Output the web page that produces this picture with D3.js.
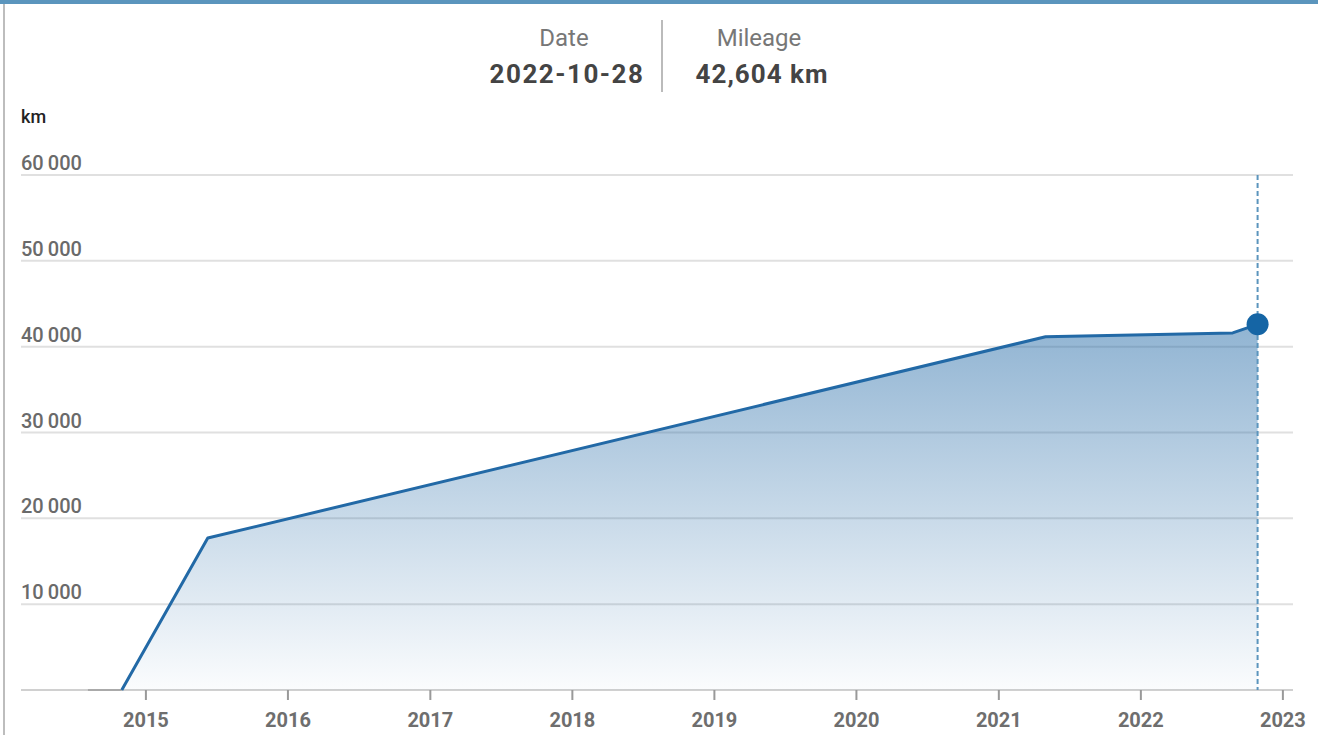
<!DOCTYPE html>
<html>
<head>
<meta charset="utf-8">
<script src="https://cdn.jsdelivr.net/npm/d3@7"></script>
<style>
  body { margin: 0; background: #fff; font-family: Roboto, "Noto Sans", sans-serif; }
  svg { display: block; }
</style>
</head>
<body>
<div id="result"></div>
<script>
// readings (date of each odometer entry and km at that date)
const dates = ["2014-08-05", "2014-10-31", "2015-06-09", "2021-05-01", "2022-08-25", "2022-10-28"];
const mileage = [0, 0, 17700, 41150, 41600, 42604];
const yTicks = [0, 10000, 20000, 30000, 40000, 50000, 60000];
const xYears = [2015, 2016, 2017, 2018, 2019, 2020, 2021, 2022, 2023];
const selectedIndex = 5;

const W = 1318, H = 735;
const margin = { top: 175, right: 25, bottom: 45, left: 21 };

const parse = d3.timeParse("%Y-%m-%d");
const data = dates.map((d, i) => ({ date: parse(d), km: mileage[i] }));

const svg = d3.select("#result")
    .append("svg")
    .attr("width", W)
    .attr("height", H);

const x = d3.scaleTime()
    .domain([new Date(2014, 1, 14), new Date(2023, 0, 27)])
    .range([margin.left, W - margin.right]);

const y = d3.scaleLinear()
    .domain([0, 60000])
    .range([H - margin.bottom, margin.top]);

// frame: blue top bar + grey left border
svg.append("rect").attr("x", 0).attr("y", 0).attr("width", W).attr("height", 4).attr("fill", "#5b95bd");
svg.append("rect").attr("x", 3).attr("y", 4).attr("width", 2).attr("height", H - 4).attr("fill", "#bdbdbd");

// header with selected point
const sel = data[selectedIndex];
const head = svg.append("g");
head.append("line")
    .attr("x1", 662).attr("x2", 662).attr("y1", 20).attr("y2", 92)
    .attr("stroke", "#bbb").attr("stroke-width", 2);
head.append("text").attr("x", 564).attr("y", 46).attr("text-anchor", "middle")
    .attr("fill", "#777").style("font-size", "24px").text("Date");
head.append("text").attr("x", 567).attr("y", 83).attr("text-anchor", "middle")
    .attr("fill", "#444").style("font-size", "26px").style("font-weight", "bold")
    .style("letter-spacing", "1.5px")
    .text(d3.timeFormat("%Y-%m-%d")(sel.date));
head.append("text").attr("x", 759).attr("y", 46).attr("text-anchor", "middle")
    .attr("fill", "#777").style("font-size", "24px").text("Mileage");
head.append("text").attr("x", 762).attr("y", 83).attr("text-anchor", "middle")
    .attr("fill", "#444").style("font-size", "26px").style("font-weight", "bold")
    .style("letter-spacing", "1px")
    .text(d3.format(",")(sel.km) + " km");

// unit label
svg.append("text").attr("x", 21).attr("y", 123)
    .attr("fill", "#222").style("font-size", "18px").style("font-weight", "500").text("km");

// gridlines + y labels
const fmtY = v => d3.format(",")(v).replace(/,/g, "\u2009");
const grid = svg.append("g");
grid.selectAll("line.grid")
    .data(yTicks.filter(v => v > 0))
    .enter().append("line")
    .attr("class", "grid")
    .attr("x1", x.range()[0]).attr("x2", x.range()[1])
    .attr("y1", d => y(d)).attr("y2", d => y(d))
    .attr("stroke", "#e0e0e0").attr("stroke-width", 2);
grid.selectAll("text")
    .data(yTicks.filter(v => v > 0))
    .enter().append("text")
    .attr("x", 21).attr("y", d => y(d) - 5)
    .attr("fill", "#6a6a6a").style("font-size", "20px").style("font-weight", "500")
    .text(fmtY);

// x axis
const xAxis = svg.append("g");
xAxis.append("line")
    .attr("x1", x.range()[0]).attr("x2", x.range()[1])
    .attr("y1", y(0)).attr("y2", y(0))
    .attr("stroke", "#d0d0d0").attr("stroke-width", 2);
const ticks = xYears.map(yr => new Date(yr, 0, 1));
xAxis.selectAll("line.tick")
    .data(ticks).enter().append("line")
    .attr("class", "tick")
    .attr("x1", d => x(d)).attr("x2", d => x(d))
    .attr("y1", y(0)).attr("y2", y(0) + 10)
    .attr("stroke", "#999").attr("stroke-width", 2);
xAxis.selectAll("text")
    .data(ticks).enter().append("text")
    .attr("x", d => x(d)).attr("y", y(0) + 37)
    .attr("text-anchor", "middle")
    .attr("fill", "#6e6e6e").style("font-size", "20px").style("font-weight", "bold")
    .text(d => d.getFullYear());

// area gradient
const defs = svg.append("defs");
const grad = defs.append("linearGradient")
    .attr("id", "areaFill")
    .attr("x1", 0).attr("x2", 0).attr("y1", 0).attr("y2", 1);
grad.append("stop").attr("offset", "0%").attr("stop-color", "#2269a6").attr("stop-opacity", 0.5);
grad.append("stop").attr("offset", "100%").attr("stop-color", "#2269a6").attr("stop-opacity", 0.02);

const live = data.slice(1); // from first real reading
const area = d3.area()
    .x(d => x(d.date))
    .y0(y(0))
    .y1(d => y(d.km));
svg.append("path")
    .datum(live)
    .attr("d", area)
    .attr("fill", "url(#areaFill)");

// zero stretch before first reading (grey)
svg.append("path")
    .datum(data.slice(0, 2))
    .attr("d", d3.line().x(d => x(d.date)).y(d => y(d.km)))
    .attr("fill", "none").attr("stroke", "#aaa").attr("stroke-width", 2);

svg.append("path")
    .datum(live)
    .attr("d", d3.line().x(d => x(d.date)).y(d => y(d.km)))
    .attr("fill", "none")
    .attr("stroke", "#2269a6")
    .attr("stroke-width", 3)
    .attr("stroke-linejoin", "round");

// crosshair + marker
svg.append("line")
    .attr("x1", x(sel.date)).attr("x2", x(sel.date))
    .attr("y1", y(60000)).attr("y2", y(0))
    .attr("stroke", "#5b95bd").attr("stroke-width", 2)
    .attr("stroke-dasharray", "5,3");
svg.append("circle")
    .attr("cx", x(sel.date)).attr("cy", y(sel.km))
    .attr("r", 11)
    .attr("fill", "#1565a5");
</script>
</body>
</html>
